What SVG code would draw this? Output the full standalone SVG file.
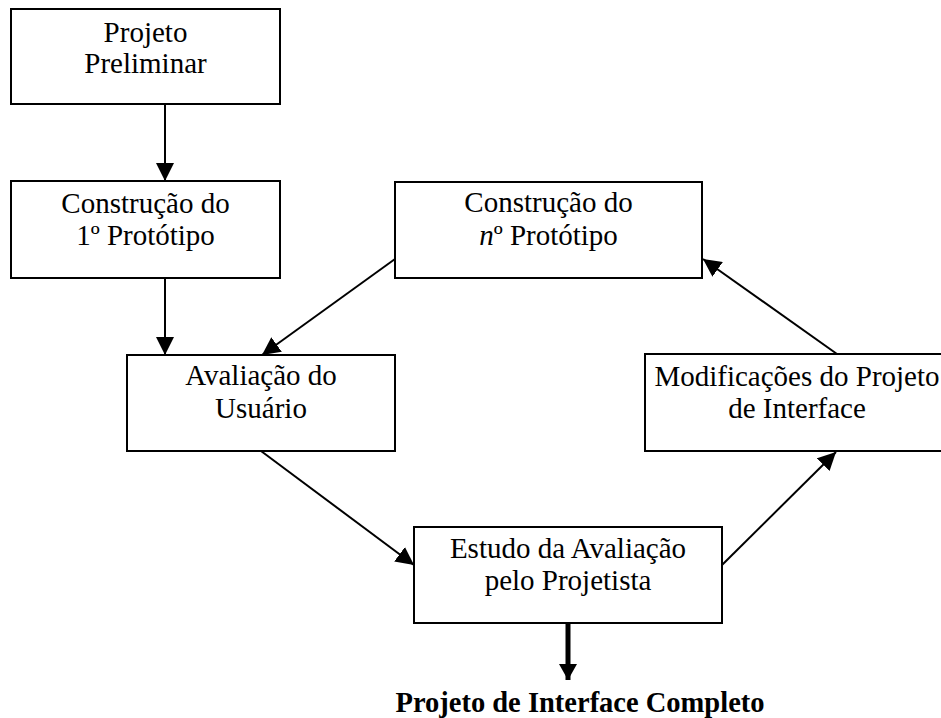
<svg xmlns="http://www.w3.org/2000/svg" width="941" height="718" viewBox="0 0 941 718">
<style>
.box{fill:#fff;stroke:#000;stroke-width:2}
.t{font-family:"Liberation Serif","Times New Roman",serif;font-size:29px;fill:#000;text-anchor:middle}
.b{font-weight:bold;font-size:28.5px}
.c{stroke:#000;stroke-width:2;fill:none}
.k{stroke:#000;stroke-width:5;fill:none}
</style>
<defs>
<marker id="ah" markerUnits="userSpaceOnUse" markerWidth="20" markerHeight="18" viewBox="0 0 20 18" refX="18" refY="9" orient="auto">
<path d="M0,0 L18,9 L0,18 Z" fill="#000"/>
</marker>
<marker id="ahk" markerUnits="userSpaceOnUse" markerWidth="18" markerHeight="18" viewBox="0 0 18 18" refX="16" refY="9" orient="auto">
<path d="M0,0 L16,9 L0,18 Z" fill="#000"/>
</marker>
</defs>
<g id="connectors">
<line class="c" x1="165" y1="104" x2="165" y2="181" marker-end="url(#ah)"/>
<line class="c" x1="165" y1="278" x2="165" y2="355" marker-end="url(#ah)"/>
<line class="c" x1="395" y1="259" x2="262" y2="355" marker-end="url(#ah)"/>
<line class="c" x1="261" y1="451" x2="414" y2="565" marker-end="url(#ah)"/>
<line class="c" x1="722" y1="565" x2="836" y2="452" marker-end="url(#ah)"/>
<line class="c" x1="837" y1="354" x2="703" y2="259" marker-end="url(#ah)"/>
<line class="k" x1="568" y1="623" x2="568" y2="680" marker-end="url(#ahk)"/>
</g>
<g id="n1">
<rect class="box" x="11" y="9" width="269" height="95"/>
<text class="t" x="145.5" y="42">Projeto</text>
<text class="t" x="145.5" y="73">Preliminar</text>
</g>
<g id="n2">
<rect class="box" x="11" y="181" width="269" height="97"/>
<text class="t" x="145.5" y="213">Construção do</text>
<text class="t" x="145.5" y="245">1º Protótipo</text>
</g>
<g id="n3">
<rect class="box" x="395" y="182" width="307" height="96"/>
<text class="t" x="548.5" y="212">Construção do</text>
<text class="t" x="548.5" y="245"><tspan font-style="italic">n</tspan>º Protótipo</text>
</g>
<g id="n4">
<rect class="box" x="127" y="355" width="268" height="96"/>
<text class="t" x="261" y="385">Avaliação do</text>
<text class="t" x="261" y="418">Usuário</text>
</g>
<g id="n5">
<rect class="box" x="645" y="354" width="304" height="97"/>
<text class="t" x="797" y="386">Modificações do Projeto</text>
<text class="t" x="797" y="418">de Interface</text>
</g>
<g id="n6">
<rect class="box" x="414" y="527" width="308" height="96"/>
<text class="t" x="568" y="558">Estudo da Avaliação</text>
<text class="t" x="568" y="590">pelo Projetista</text>
</g>
<g id="n7">
<text class="t b" x="580" y="712">Projeto de Interface Completo</text>
</g>
</svg>
